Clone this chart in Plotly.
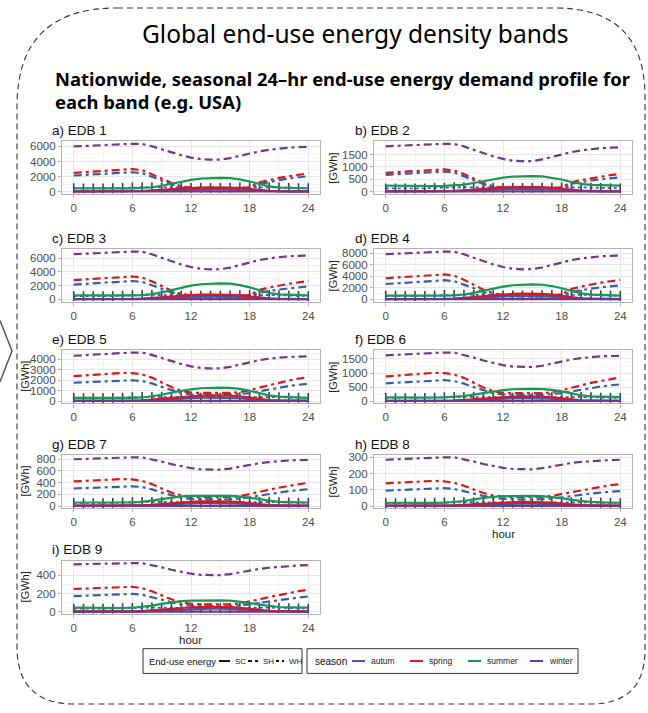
import plotly.graph_objects as go

W, H = 648, 713

HOURS = list(range(25))
X_TICKS = [0, 6, 12, 18, 24]
PANEL_TITLES = ["a) EDB 1", "b) EDB 2", "c) EDB 3", "d) EDB 4", "e) EDB 5",
                "f) EDB 6", "g) EDB 7", "h) EDB 8", "i) EDB 9"]
Y_TICKS = [
    [0, 2000, 4000, 6000],
    [0, 500, 1000, 1500],
    [0, 2000, 4000, 6000],
    [0, 2000, 4000, 6000, 8000],
    [0, 1000, 2000, 3000, 4000],
    [0, 500, 1000, 1500],
    [0, 200, 400, 600, 800],
    [0, 100, 200, 300],
    [0, 200, 400],
]
SEASONS = ["autum", "spring", "summer", "winter"]
END_USES = ["SC", "SH", "WH"]
SEASON_COLORS = {"autum": "#3b5ba5", "spring": "#d7191c", "summer": "#1a9850", "winter": "#73368f"}

# ---------------- EDB 1 ----------------
A_WINTER_SH = [6000,6070,6140,6210,6280,6330,6350,6330,6030,5620,5200,4840,4520,4310,4250,4260,4460,4780,5090,5340,5550,5720,5840,5920,5950]
A_SPRING_SH = [2480,2580,2680,2780,2880,2960,3000,2850,2350,1750,1150,700,520,470,450,450,460,480,560,1250,1560,1820,2040,2240,2420]
A_AUTUM_SH = [2140,2220,2300,2390,2470,2540,2570,2450,2000,1480,960,560,400,350,330,330,340,360,430,1000,1300,1530,1730,1900,2060]
A_SUMMER_SC = [450,430,420,410,410,420,440,480,580,780,1050,1330,1560,1720,1810,1830,1780,1620,1350,1000,700,540,480,460,450]
A_SPRING_SC = [45,39,34,34,34,39,50,84,157,252,347,437,504,543,560,560,532,459,336,196,112,78,62,50,45]
A_AUTUM_SC = [26,23,20,20,20,23,30,50,92,149,205,257,297,320,330,330,314,271,198,116,66,46,36,30,26]
A_WINTER_SC = [40,40,40,40,40,40,40,45,50,55,60,60,60,60,60,60,55,50,45,40,40,40,40,40,40]
A_WH = [450,425,425,425,450,500,550,600,600,575,550,525,500,500,500,500,525,550,600,600,575,550,500,475,450]

# ---------------- EDB 2 ----------------
B_WINTER_SH = [1830,1850,1870,1890,1910,1925,1930,1925,1825,1685,1545,1425,1320,1250,1230,1235,1300,1405,1510,1595,1665,1720,1755,1775,1790]
B_SPRING_SH = [760,785,810,840,865,890,900,855,710,530,350,215,160,145,140,140,143,150,175,380,470,545,610,665,720]
B_AUTUM_SH = [680,705,730,755,780,800,810,770,630,465,300,175,125,108,100,100,103,110,135,320,395,450,500,540,575]
B_SUMMER_SC = [240,232,228,225,225,228,235,250,285,350,430,505,565,605,625,630,612,565,490,390,310,270,255,247,240]
B_SPRING_SC = [15,13,11,11,11,13,17,29,53,86,118,148,171,184,190,190,181,156,114,67,38,27,21,17,15]
B_AUTUM_SC = [9,8,7,7,7,8,10,17,31,50,68,86,99,107,110,110,105,90,66,39,22,15,12,10,9]
B_WINTER_SC = [12,12,12,12,12,12,12,14,15,17,18,18,18,18,18,18,17,15,14,12,12,12,12,12,12]
B_WH = [135,128,128,128,135,150,165,180,180,173,165,158,150,150,150,150,158,165,180,180,173,165,150,143,135]

# ---------------- EDB 3 ----------------
C_WINTER_SH = [6590,6670,6740,6820,6890,6940,6970,6950,6580,6060,5550,5100,4720,4460,4380,4400,4640,5030,5420,5730,5990,6190,6300,6360,6400]
C_SPRING_SH = [2820,2920,3020,3120,3220,3300,3340,3180,2630,1960,1290,790,580,520,500,500,510,540,630,1390,1740,2030,2270,2480,2680]
C_AUTUM_SH = [2165,2250,2340,2430,2520,2630,2680,2560,2100,1560,1010,610,440,400,380,380,390,410,480,1010,1250,1440,1600,1750,1880]
C_SUMMER_SC = [600,580,570,560,560,570,590,640,770,1030,1370,1720,2010,2210,2320,2350,2290,2090,1750,1310,940,740,660,620,600]
C_SPRING_SC = [58,50,43,43,43,50,65,108,202,324,446,562,648,698,720,720,684,590,432,252,144,101,79,65,58]
C_AUTUM_SC = [34,30,26,26,26,30,39,65,120,194,267,335,387,417,430,430,409,353,258,151,86,60,47,39,34]
C_WINTER_SC = [45,45,45,45,45,45,45,50,55,60,66,66,66,66,66,66,60,55,50,45,45,45,45,45,45]
C_WH = [495,468,468,468,495,550,605,660,660,633,605,578,550,550,550,550,578,605,660,660,633,605,550,523,495]

# ---------------- EDB 4 ----------------
D_WINTER_SH = [7830,7920,8010,8100,8190,8250,8280,8250,7820,7210,6600,6070,5620,5320,5220,5240,5530,5990,6450,6810,7110,7330,7470,7550,7610]
D_SPRING_SH = [3670,3800,3930,4070,4200,4300,4330,4120,3420,2560,1700,1060,790,720,700,700,715,750,870,1800,2250,2620,2900,3150,3390]
D_AUTUM_SH = [2670,2800,2930,3060,3190,3290,3330,3170,2620,1950,1280,780,570,520,500,500,510,540,630,1300,1620,1880,2090,2270,2440]
D_SUMMER_SC = [670,650,640,630,630,640,660,720,860,1150,1530,1910,2230,2460,2580,2610,2540,2320,1940,1450,1040,820,730,690,670]
D_SPRING_SC = [80,70,60,60,60,70,90,150,280,450,620,780,900,970,1000,1000,950,820,600,350,200,140,110,90,80]
D_AUTUM_SC = [48,42,36,36,36,42,54,90,168,270,372,468,540,582,600,600,570,492,360,210,120,84,66,54,48]
D_WINTER_SC = [55,55,55,55,55,55,55,62,70,77,85,85,85,85,85,85,77,70,62,55,55,55,55,55,55]
D_WH = [630,595,595,595,630,700,770,840,840,805,770,735,700,700,700,700,735,770,840,840,805,770,700,665,630]

# ---------------- EDB 5 ----------------
E_WINTER_SH = [4330,4390,4450,4510,4570,4620,4640,4630,4410,4110,3800,3550,3320,3170,3120,3130,3270,3500,3730,3910,4060,4160,4220,4250,4270]
E_SPRING_SH = [2390,2450,2520,2590,2660,2700,2680,2560,2250,1800,1350,1000,820,790,780,780,800,880,1050,1300,1550,1780,1980,2150,2300]
E_AUTUM_SH = [1760,1800,1850,1900,1950,1990,2000,1920,1700,1370,1040,780,640,610,600,600,610,660,770,950,1130,1300,1450,1570,1670]
E_SUMMER_SC = [320,310,300,300,300,305,320,360,460,620,820,1000,1140,1240,1290,1300,1270,1180,1000,760,560,440,380,350,330]
E_SPRING_SC = [45,39,34,34,34,39,50,84,157,252,347,437,504,543,560,560,532,459,336,196,112,78,62,50,45]
E_AUTUM_SC = [28,25,21,21,21,25,32,53,98,158,217,273,315,340,350,350,333,287,210,123,70,49,39,32,28]
E_WINTER_SC = [30,30,30,30,30,30,30,34,38,42,46,46,46,46,46,46,42,38,34,30,30,30,30,30,30]
E_WH = [315,298,298,298,315,350,385,420,420,403,385,368,350,350,350,350,368,385,420,420,403,385,350,333,315]

# ---------------- EDB 6 ----------------
F_WINTER_SH = [1630,1650,1670,1690,1710,1725,1730,1725,1650,1550,1445,1355,1280,1230,1210,1215,1260,1340,1420,1480,1530,1570,1595,1605,1615]
F_SPRING_SH = [880,905,930,960,990,1010,1000,950,830,660,490,360,300,285,280,280,290,320,385,480,570,650,720,785,845]
F_AUTUM_SH = [635,655,680,705,730,745,750,715,625,500,380,285,240,225,220,220,225,245,290,350,415,470,520,565,600]
F_SUMMER_SC = [140,135,132,130,130,132,138,152,185,235,295,350,395,425,438,440,432,405,350,275,210,175,160,150,145]
F_SPRING_SC = [14,12,10,10,10,12,15,26,48,77,105,133,153,165,170,170,162,139,102,60,34,24,19,15,14]
F_AUTUM_SC = [9,8,7,7,7,8,10,17,31,50,68,86,99,107,110,110,105,90,66,39,22,15,12,10,9]
F_WINTER_SC = [10,10,10,10,10,10,10,11,12,14,15,15,15,15,15,15,14,12,11,10,10,10,10,10,10]
F_WH = [117,111,111,111,117,130,143,156,156,150,143,137,130,130,130,130,137,143,156,156,150,143,130,124,117]

# ---------------- EDB 7 ----------------
G_WINTER_SH = [800,807,814,821,827,831,833,832,801,760,716,680,648,627,620,622,641,673,705,731,752,769,779,786,790]
G_SPRING_SH = [420,428,437,447,457,462,455,430,375,300,230,180,155,150,150,150,155,170,200,240,280,315,345,372,397]
G_AUTUM_SH = [300,306,313,320,328,334,337,325,285,230,180,140,120,113,110,110,113,125,148,178,207,233,255,272,288]
G_SUMMER_SC = [60,58,57,56,56,57,60,70,92,120,148,165,172,175,175,175,172,162,140,110,85,72,66,63,60]
G_SPRING_SC = [6,6,5,5,5,6,7,12,22,36,50,62,72,78,80,80,76,66,48,28,16,11,9,7,6]
G_AUTUM_SC = [4,4,3,3,3,4,5,8,14,23,31,39,45,49,50,50,48,41,30,18,10,7,6,5,4]
G_WINTER_SC = [4,4,4,4,4,4,4,5,6,7,8,8,8,8,8,8,7,6,5,4,4,4,4,4,4]
G_WH = [54,51,51,51,54,60,66,72,72,69,66,63,60,60,60,60,63,66,72,72,69,66,60,57,54]

# ---------------- EDB 8 ----------------
H_WINTER_SH = [285,288,291,294,297,299,300,300,289,274,259,246,235,228,225,226,233,244,255,265,272,277,281,283,285]
H_SPRING_SH = [140,143,146,149,153,155,152,143,125,102,80,65,58,56,55,55,57,63,74,87,100,111,121,129,135]
H_AUTUM_SH = [95,98,101,104,107,109,110,105,93,77,62,50,44,41,40,40,41,45,53,62,70,77,83,88,92]
H_SUMMER_SC = [20,19,19,18,18,19,20,24,31,41,51,57,60,62,62,62,61,57,49,38,30,25,22,21,20]
H_SPRING_SC = [2,2,2,2,2,2,2,4,7,11,16,20,23,24,25,25,24,21,15,9,5,4,3,2,2]
H_AUTUM_SC = [1,1,1,1,1,1,1,2,4,7,9,12,14,15,15,15,14,12,9,5,3,2,2,1,1]
H_WINTER_SC = [1,1,1,1,1,1,1,2,2,2,3,3,3,3,3,3,2,2,2,1,1,1,1,1,1]
H_WH = [18,17,17,17,18,20,22,24,24,23,22,21,20,20,20,20,21,22,24,24,23,22,20,19,18]

# ---------------- EDB 9 ----------------
I_WINTER_SH = [520,523,526,529,531,532,533,532,513,487,460,437,417,404,400,401,413,433,453,469,482,493,501,507,512]
I_SPRING_SH = [250,255,260,266,272,277,274,258,225,180,137,105,88,82,80,80,83,93,112,137,162,186,207,226,242]
I_AUTUM_SH = [172,176,180,185,190,194,196,187,164,133,104,80,67,62,60,60,62,69,82,98,114,129,143,156,168]
I_SUMMER_SC = [45,43,42,41,41,42,45,53,68,87,105,117,122,125,125,125,122,114,98,78,62,53,49,47,45]
I_SPRING_SC = [4,4,3,3,3,4,5,8,15,25,34,43,50,53,55,55,52,45,33,19,11,8,6,5,4]
I_AUTUM_SC = [3,2,2,2,2,2,3,5,10,16,22,27,32,34,35,35,33,29,21,12,7,5,4,3,3]
I_WINTER_SC = [3,3,3,3,3,3,3,4,4,5,6,6,6,6,6,6,5,4,4,3,3,3,3,3,3]
I_WH = [36,34,34,34,36,40,44,48,48,46,44,42,40,40,40,40,42,44,48,48,46,44,40,38,36]

PANELS = [
    [("autum", "WH", A_WH), ("winter", "SH", A_WINTER_SH), ("spring", "SH", A_SPRING_SH), ("autum", "SH", A_AUTUM_SH),
     ("autum", "SC", A_AUTUM_SC), ("spring", "SC", A_SPRING_SC), ("winter", "SC", A_WINTER_SC), ("summer", "SC", A_SUMMER_SC)],
    [("autum", "WH", B_WH), ("winter", "SH", B_WINTER_SH), ("spring", "SH", B_SPRING_SH), ("autum", "SH", B_AUTUM_SH),
     ("autum", "SC", B_AUTUM_SC), ("spring", "SC", B_SPRING_SC), ("winter", "SC", B_WINTER_SC), ("summer", "SC", B_SUMMER_SC)],
    [("autum", "WH", C_WH), ("winter", "SH", C_WINTER_SH), ("spring", "SH", C_SPRING_SH), ("autum", "SH", C_AUTUM_SH),
     ("autum", "SC", C_AUTUM_SC), ("spring", "SC", C_SPRING_SC), ("winter", "SC", C_WINTER_SC), ("summer", "SC", C_SUMMER_SC)],
    [("autum", "WH", D_WH), ("winter", "SH", D_WINTER_SH), ("spring", "SH", D_SPRING_SH), ("autum", "SH", D_AUTUM_SH),
     ("autum", "SC", D_AUTUM_SC), ("spring", "SC", D_SPRING_SC), ("winter", "SC", D_WINTER_SC), ("summer", "SC", D_SUMMER_SC)],
    [("autum", "WH", E_WH), ("winter", "SH", E_WINTER_SH), ("spring", "SH", E_SPRING_SH), ("autum", "SH", E_AUTUM_SH),
     ("autum", "SC", E_AUTUM_SC), ("spring", "SC", E_SPRING_SC), ("winter", "SC", E_WINTER_SC), ("summer", "SC", E_SUMMER_SC)],
    [("autum", "WH", F_WH), ("winter", "SH", F_WINTER_SH), ("spring", "SH", F_SPRING_SH), ("autum", "SH", F_AUTUM_SH),
     ("autum", "SC", F_AUTUM_SC), ("spring", "SC", F_SPRING_SC), ("winter", "SC", F_WINTER_SC), ("summer", "SC", F_SUMMER_SC)],
    [("autum", "WH", G_WH), ("winter", "SH", G_WINTER_SH), ("spring", "SH", G_SPRING_SH), ("autum", "SH", G_AUTUM_SH),
     ("autum", "SC", G_AUTUM_SC), ("spring", "SC", G_SPRING_SC), ("winter", "SC", G_WINTER_SC), ("summer", "SC", G_SUMMER_SC)],
    [("autum", "WH", H_WH), ("winter", "SH", H_WINTER_SH), ("spring", "SH", H_SPRING_SH), ("autum", "SH", H_AUTUM_SH),
     ("autum", "SC", H_AUTUM_SC), ("spring", "SC", H_SPRING_SC), ("winter", "SC", H_WINTER_SC), ("summer", "SC", H_SUMMER_SC)],
    [("autum", "WH", I_WH), ("winter", "SH", I_WINTER_SH), ("spring", "SH", I_SPRING_SH), ("autum", "SH", I_AUTUM_SH),
     ("autum", "SC", I_AUTUM_SC), ("spring", "SC", I_SPRING_SC), ("winter", "SC", I_WINTER_SC), ("summer", "SC", I_SUMMER_SC)],
]
for p in PANELS:
    for s in p:
        assert len(s[2]) == 25, s[:2]

# ---------------- layout geometry (pixels) ----------------
COL_X = [(62, 320), (374, 632)]
ROW_Y = [(139, 192), (248, 301), (350, 404), (456, 510), (563, 617)]
TITLE_X = [50, 353]
GWH_X = [25, 333]
GWH_SHOWN = [False, True, False, True, True, True, True, True, True]
HOUR_LABELS = [(7, 536), (8, 643)]

FONT = "Liberation Sans, Arial, sans-serif"
GRID = "#e6e6e6"
MINOR = "#f3f3f3"
BORDER = "#b3b3b3"
SH_DASH = "8px,4px,3px,4px"
WH_BAR = "#2f3f7a"


def px(x):
    return x / W


def py(y):
    return 1 - y / H


def P(x, y):
    return f"{px(x):.5f},{py(y):.5f}"


fig = go.Figure()
annotations = []
shapes = []

for k, series in enumerate(PANELS):
    row, col = divmod(k, 2)
    x0, x1 = COL_X[col]
    y0, y1 = ROW_Y[row]
    xa = "x" if k == 0 else f"x{k+1}"
    ya = "y" if k == 0 else f"y{k+1}"
    for season, eu, vals in series:
        color = SEASON_COLORS[season]
        if eu == "SC":
            tr = go.Scatter(x=HOURS, y=vals, mode="lines", line=dict(color=color, width=2.2))
        elif eu == "SH":
            tr = go.Scatter(x=HOURS, y=vals, mode="lines", line=dict(color=color, width=2.2, dash=SH_DASH))
        else:
            tr = go.Scatter(x=HOURS, y=vals, mode="lines+markers",
                            line=dict(color=color, width=1.8, dash="dot"),
                            marker=dict(symbol="line-ns-open", size=7, color=WH_BAR,
                                        line=dict(width=1.6, color=WH_BAR)))
        tr.update(xaxis=xa, yaxis=ya, showlegend=False, hoverinfo="skip")
        fig.add_trace(tr)

    allv = [v for s in series for v in s[2]]
    lo, hi = min(allv), max(allv)
    pad = 0.05 * (hi - lo)
    yt = Y_TICKS[k]
    step = yt[1] - yt[0]
    ax_common = dict(ticks="outside", ticklen=3, tickcolor=BORDER, tickwidth=1,
                     tickfont=dict(family=FONT, size=11.5, color="#4d4d4d"),
                     showgrid=True, gridcolor=GRID, gridwidth=1,
                     showline=True, mirror=True, linecolor=BORDER, linewidth=1.2,
                     zeroline=False, fixedrange=True)
    fig.update_layout(**{
        ("xaxis" if k == 0 else f"xaxis{k+1}"): dict(
            domain=[px(x0), px(x1)], anchor=ya, range=[-1.2, 25.2], tickvals=X_TICKS,
            minor=dict(tick0=0, dtick=3, showgrid=True, gridcolor=MINOR, gridwidth=0.8, ticks=""),
            **ax_common),
        ("yaxis" if k == 0 else f"yaxis{k+1}"): dict(
            domain=[py(y1), py(y0)], anchor=xa, range=[lo - pad, hi + pad], tickvals=yt,
            minor=dict(tick0=0, dtick=step / 2, showgrid=True, gridcolor=MINOR, gridwidth=0.8, ticks=""),
            **ax_common),
    })
    annotations.append(dict(x=px(TITLE_X[col]), y=py(y0 - 11), xref="paper", yref="paper",
                            text=PANEL_TITLES[k], showarrow=False, xanchor="left", yanchor="middle",
                            font=dict(family=FONT, size=13.5, color="#111")))
    if GWH_SHOWN[k]:
        annotations.append(dict(x=px(GWH_X[col]), y=py((y0 + y1) / 2), xref="paper", yref="paper",
                                text="[GWh]", textangle=-90, showarrow=False,
                                xanchor="center", yanchor="middle",
                                font=dict(family=FONT, size=11, color="#222")))

for k, yy in HOUR_LABELS:
    row, col = divmod(k, 2)
    x0, x1 = COL_X[col]
    annotations.append(dict(x=px((x0 + x1) / 2), y=py(yy), xref="paper", yref="paper", text="hour",
                            showarrow=False, xanchor="center", yanchor="middle",
                            font=dict(family=FONT, size=11.5, color="#222")))

# titles
annotations.append(dict(x=px(355), y=py(30), xref="paper", yref="paper",
                        text="Global end-use energy density bands", showarrow=False,
                        xanchor="center", yanchor="middle",
                        font=dict(family="Noto Sans", size=24.5, color="#000")))
annotations.append(dict(x=px(53), y=py(75), xref="paper", yref="paper",
                        text="<b>Nationwide, seasonal 24–hr end-use energy demand profile for</b>",
                        showarrow=False, xanchor="left", yanchor="middle",
                        font=dict(family="Noto Sans", size=18.4, color="#000")))
annotations.append(dict(x=px(53), y=py(99), xref="paper", yref="paper",
                        text="<b>each band (e.g. USA)</b>", showarrow=False,
                        xanchor="left", yanchor="middle",
                        font=dict(family="Noto Sans", size=18.4, color="#000")))

# dashed rounded frame
L, R, T, B = 17, 645, 4, 708
rtl, rtr, rbl, rbr = 100, 90, 58, 55
frame = (f"M{P(L + rtl, T)} L{P(R - rtr, T)} Q{P(R, T)} {P(R, T + rtr)} "
         f"L{P(R, B - rbr)} Q{P(R, B)} {P(R - rbr, B)} L{P(L + rbl, B)} "
         f"Q{P(L, B)} {P(L, B - rbl)} L{P(L, T + rtl)} Q{P(L, T)} {P(L + rtl, T)} Z")
shapes.append(dict(type="path", path=frame, xref="paper", yref="paper",
                   line=dict(color="#333", width=1.1, dash="6px,4px")))
# chevron
shapes.append(dict(type="path", path=f"M{P(0, 320)} L{P(12, 351)} L{P(0, 382)}", xref="paper", yref="paper",
                   line=dict(color="#555", width=1.5)))

# legend boxes
LEG_Y0, LEG_Y1 = 652, 677
LEG_YC = (LEG_Y0 + LEG_Y1) / 2
LEG1 = (143, 302)
LEG2 = (307, 578)
for bx0, bx1 in (LEG1, LEG2):
    shapes.append(dict(type="rect", x0=px(bx0), x1=px(bx1), y0=py(LEG_Y1), y1=py(LEG_Y0),
                       xref="paper", yref="paper", line=dict(color="#333", width=1)))

annotations.append(dict(x=px(147), y=py(LEG_YC), xref="paper", yref="paper", text="End-use energy",
                        showarrow=False, xanchor="left", yanchor="middle",
                        font=dict(family=FONT, size=9.5, color="#111")))
EU_KEYS = [("SC", "solid", 219, 230, 233), ("SH", "4px,3px", 248, 258, 261), ("WH", "dot", 276, 284, 287)]
for lab, dash, k0, k1, tx in EU_KEYS:
    shapes.append(dict(type="line", x0=px(k0), x1=px(k1), y0=py(LEG_YC), y1=py(LEG_YC),
                       xref="paper", yref="paper", line=dict(color="#111", width=2, dash=dash)))
    annotations.append(dict(x=px(tx), y=py(LEG_YC), xref="paper", yref="paper", text=lab,
                            showarrow=False, xanchor="left", yanchor="middle",
                            font=dict(family=FONT, size=8, color="#222")))

annotations.append(dict(x=px(313), y=py(LEG_YC), xref="paper", yref="paper", text="season",
                        showarrow=False, xanchor="left", yanchor="middle",
                        font=dict(family=FONT, size=10, color="#111")))
SEASON_KEY_X = [352, 410, 468, 530]
for s, kx in zip(SEASONS, SEASON_KEY_X):
    shapes.append(dict(type="line", x0=px(kx), x1=px(kx + 13), y0=py(LEG_YC), y1=py(LEG_YC),
                       xref="paper", yref="paper", line=dict(color=SEASON_COLORS[s], width=2)))
    annotations.append(dict(x=px(kx + 17), y=py(LEG_YC), xref="paper", yref="paper", text=s,
                            showarrow=False, xanchor="left", yanchor="middle",
                            font=dict(family=FONT, size=8.5, color="#222")))

fig.update_layout(width=W, height=H, margin=dict(l=0, r=0, t=0, b=0),
                  paper_bgcolor="white", plot_bgcolor="white",
                  showlegend=False, annotations=annotations, shapes=shapes,
                  font=dict(family=FONT))

fig.write_html("out.html", config={"displayModeBar": False},
               post_script="document.body.style.margin='0';document.body.style.overflow='hidden';")
